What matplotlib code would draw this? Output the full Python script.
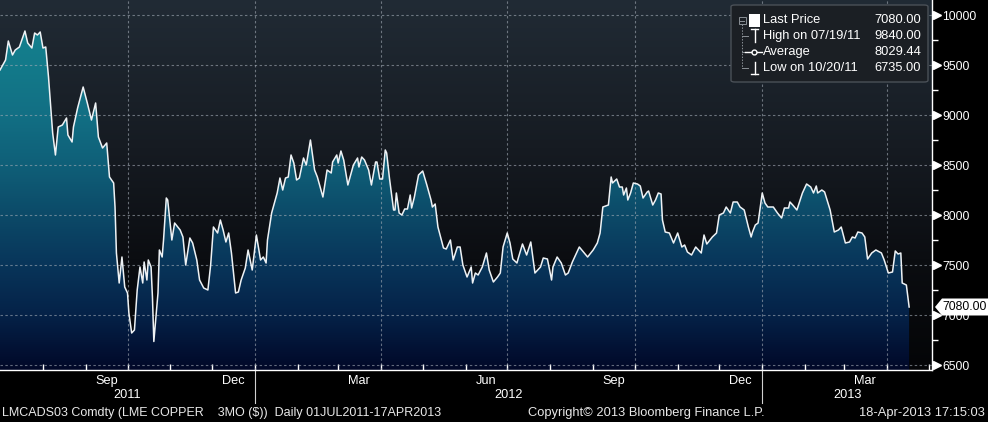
import numpy as np
import pandas as pd
import matplotlib
matplotlib.use('Agg')
import matplotlib.pyplot as plt
import matplotlib.dates as mdates
from matplotlib.colors import LinearSegmentedColormap
from matplotlib.patches import Polygon, FancyBboxPatch, Rectangle
from matplotlib.lines import Line2D
from matplotlib.ticker import MultipleLocator, FixedLocator

# ---------------- data ----------------
dates = [
    '2011-07-01', '2011-07-05', '2011-07-07', '2011-07-10', '2011-07-12', '2011-07-15', '2011-07-19',
    '2011-07-21', '2011-07-24', '2011-07-26', '2011-07-28', '2011-07-30', '2011-08-01', '2011-08-03',
    '2011-08-05', '2011-08-08', '2011-08-10', '2011-08-12', '2011-08-15', '2011-08-18', '2011-08-19',
    '2011-08-22', '2011-08-23', '2011-08-26', '2011-08-30', '2011-09-02', '2011-09-05', '2011-09-08',
    '2011-09-10', '2011-09-13', '2011-09-16', '2011-09-18', '2011-09-21', '2011-09-22', '2011-09-23',
    '2011-09-25', '2011-09-27', '2011-09-29', '2011-10-01', '2011-10-02', '2011-10-04', '2011-10-06',
    '2011-10-08', '2011-10-10', '2011-10-12', '2011-10-13', '2011-10-15', '2011-10-16', '2011-10-18',
    '2011-10-19', '2011-10-20', '2011-10-23', '2011-10-24', '2011-10-26', '2011-10-27', '2011-10-29',
    '2011-10-30', '2011-11-02', '2011-11-04', '2011-11-08', '2011-11-10', '2011-11-12', '2011-11-15',
    '2011-11-17', '2011-11-20', '2011-11-22', '2011-11-25', '2011-11-28', '2011-11-30', '2011-12-02',
    '2011-12-05', '2011-12-07', '2011-12-09', '2011-12-11', '2011-12-13', '2011-12-15', '2011-12-18',
    '2011-12-20', '2011-12-22', '2011-12-25', '2011-12-27', '2011-12-30', '2012-01-02', '2012-01-05',
    '2012-01-07', '2012-01-09', '2012-01-10', '2012-01-13', '2012-01-17', '2012-01-19', '2012-01-21',
    '2012-01-23', '2012-01-25', '2012-01-27', '2012-01-29', '2012-01-31', '2012-02-02', '2012-02-05',
    '2012-02-07', '2012-02-10', '2012-02-13', '2012-02-15', '2012-02-19', '2012-02-22', '2012-02-25',
    '2012-02-26', '2012-02-29', '2012-03-01', '2012-03-03', '2012-03-05', '2012-03-08', '2012-03-12',
    '2012-03-15', '2012-03-16', '2012-03-18', '2012-03-20', '2012-03-23', '2012-03-25', '2012-03-28',
    '2012-03-29', '2012-03-31', '2012-04-02', '2012-04-04', '2012-04-05', '2012-04-07', '2012-04-10',
    '2012-04-11', '2012-04-12', '2012-04-14', '2012-04-16', '2012-04-18', '2012-04-20', '2012-04-22',
    '2012-04-23', '2012-04-25', '2012-04-28', '2012-05-01', '2012-05-04', '2012-05-07', '2012-05-08',
    '2012-05-10', '2012-05-12', '2012-05-16', '2012-05-18', '2012-05-21', '2012-05-23', '2012-05-26',
    '2012-05-28', '2012-05-30', '2012-06-02', '2012-06-05', '2012-06-06', '2012-06-08', '2012-06-10',
    '2012-06-13', '2012-06-16', '2012-06-18', '2012-06-21', '2012-06-24', '2012-06-26', '2012-06-28',
    '2012-07-01', '2012-07-03', '2012-07-05', '2012-07-08', '2012-07-09', '2012-07-12', '2012-07-15',
    '2012-07-18', '2012-07-21', '2012-07-25', '2012-07-27', '2012-07-30', '2012-08-02', '2012-08-03',
    '2012-08-06', '2012-08-09', '2012-08-12', '2012-08-14', '2012-08-17', '2012-08-20', '2012-08-22',
    '2012-08-25', '2012-08-28', '2012-09-01', '2012-09-04', '2012-09-06', '2012-09-08', '2012-09-12',
    '2012-09-14', '2012-09-15', '2012-09-18', '2012-09-20', '2012-09-22', '2012-09-23', '2012-09-25',
    '2012-09-26', '2012-09-28', '2012-09-30', '2012-10-03', '2012-10-05', '2012-10-07', '2012-10-10',
    '2012-10-11', '2012-10-14', '2012-10-16', '2012-10-18', '2012-10-20', '2012-10-21', '2012-10-23',
    '2012-10-26', '2012-10-29', '2012-11-01', '2012-11-04', '2012-11-06', '2012-11-08', '2012-11-11',
    '2012-11-14', '2012-11-16', '2012-11-18', '2012-11-20', '2012-11-22', '2012-11-26', '2012-11-29',
    '2012-12-01', '2012-12-04', '2012-12-06', '2012-12-09', '2012-12-11', '2012-12-14', '2012-12-16',
    '2012-12-19', '2012-12-22', '2012-12-24', '2012-12-25', '2012-12-27', '2012-12-29', '2013-01-01',
    '2013-01-03', '2013-01-05', '2013-01-09', '2013-01-12', '2013-01-15', '2013-01-17', '2013-01-20',
    '2013-01-21', '2013-01-23', '2013-01-26', '2013-01-30', '2013-02-02', '2013-02-05', '2013-02-07',
    '2013-02-09', '2013-02-10', '2013-02-13', '2013-02-15', '2013-02-19', '2013-02-22', '2013-02-25',
    '2013-02-27', '2013-03-02', '2013-03-05', '2013-03-07', '2013-03-09', '2013-03-11', '2013-03-14',
    '2013-03-16', '2013-03-18', '2013-03-21', '2013-03-24', '2013-03-28', '2013-03-30', '2013-04-02',
    '2013-04-05', '2013-04-07', '2013-04-09', '2013-04-11', '2013-04-12', '2013-04-15', '2013-04-17',
]
prices = [
    9450, 9550, 9740, 9600, 9650, 9680, 9840,
    9720, 9670, 9820, 9800, 9830, 9670, 9680,
    9380, 8820, 8600, 8880, 8900, 8970, 8800,
    8730, 8880, 9070, 9280, 9120, 8950, 9120,
    8780, 8670, 8720, 8380, 8320, 8080, 7620,
    7320, 7580, 7280, 7220, 7020, 6820, 6850,
    7250, 7480, 7320, 7530, 7350, 7550, 7480,
    7180, 6735, 7220, 7650, 7580, 7750, 8170,
    8150, 7750, 7920, 7850, 7780, 7500, 7770,
    7720, 7550, 7350, 7270, 7250, 7500, 7880,
    7820, 7950, 7850, 7730, 7820, 7620, 7220,
    7230, 7350, 7470, 7650, 7450, 7800, 7550,
    7580, 7520, 7750, 8020, 8220, 8370, 8250,
    8370, 8380, 8600, 8520, 8350, 8370, 8570,
    8500, 8750, 8450, 8380, 8180, 8450, 8420,
    8530, 8600, 8520, 8640, 8550, 8300, 8500,
    8570, 8480, 8580, 8550, 8450, 8300, 8530,
    8530, 8360, 8360, 8650, 8620, 8370, 8050,
    8050, 8220, 8020, 8000, 8060, 8060, 8200,
    8070, 8180, 8400, 8440, 8300, 8150, 8080,
    8110, 7880, 7670, 7660, 7750, 7550, 7680,
    7680, 7500, 7380, 7480, 7320, 7420, 7400,
    7480, 7620, 7450, 7330, 7380, 7420, 7680,
    7820, 7720, 7560, 7520, 7570, 7710, 7600,
    7730, 7420, 7480, 7570, 7560, 7350, 7480,
    7580, 7520, 7400, 7420, 7530, 7620, 7680,
    7630, 7580, 7650, 7720, 7820, 8080, 8100,
    8380, 8320, 8360, 8280, 8280, 8200, 8270,
    8150, 8220, 8320, 8310, 8290, 8170, 8230,
    8240, 8100, 8150, 8220, 8210, 7950, 7830,
    7820, 7720, 7820, 7680, 7700, 7630, 7600,
    7680, 7650, 7620, 7800, 7710, 7780, 7820,
    8000, 8020, 8080, 8020, 8130, 8130, 8080,
    8050, 7880, 7780, 7830, 7900, 7920, 8220,
    8120, 8080, 8080, 8020, 7970, 8070, 8070,
    8130, 8100, 8050, 8220, 8310, 8280, 8220,
    8290, 8220, 8250, 8230, 8050, 7830, 7850,
    7880, 7720, 7730, 7780, 7770, 7830, 7820,
    7780, 7560, 7620, 7650, 7620, 7550, 7420,
    7430, 7640, 7610, 7620, 7320, 7300, 7080,
]
average_price = 8029.44
y_ticks = [6500, 7000, 7500, 8000, 8500, 9000, 9500, 10000]
month_labels = ['Sep', 'Dec', 'Mar', 'Jun', 'Sep', 'Dec', 'Mar']
month_label_dates = ['2011-09-16', '2011-12-16', '2012-03-16', '2012-06-16',
                     '2012-09-16', '2012-12-16', '2013-03-16']
years = ['2011', '2012', '2013']
grid_dates = ['2011-10-01', '2012-01-01', '2012-04-01', '2012-07-01',
              '2012-10-01', '2013-01-01', '2013-04-01']
footer_left = 'LMCADS03 Comdty (LME COPPER    3MO ($))  Daily 01JUL2011-17APR2013'
footer_mid = 'Copyright\u00a9 2013 Bloomberg Finance L.P.'
footer_right = '18-Apr-2013 17:15:03'

# ---------------- figure ----------------
FONT = ['Liberation Sans', 'DejaVu Sans']
plt.rcParams['font.family'] = FONT
W, H = 988, 422
fig = plt.figure(figsize=(W / 100, H / 100), dpi=100, facecolor='black')
AX_W, AX_H = 932, 370
ax = fig.add_axes([0, (H - AX_H) / H, AX_W / W, AX_H / H])
ax.set_facecolor('black')

def fpx(x, y):
    return (x / W, 1 - y / H)

x = mdates.date2num(pd.to_datetime(dates))
y = np.array(prices, dtype=float)
start = mdates.date2num(pd.Timestamp('2011-07-01'))
x0, x1 = start, start + 672.5
ylo, yhi = 6450, 10150
ax.set_xlim(x0, x1)
ax.set_ylim(ylo, yhi)

# background gradient
bg_cmap = LinearSegmentedColormap.from_list(
    'bg', [(0, '#040507'), (0.3, '#0b0d11'), (0.6, '#161b22'), (1.0, '#212b35')])
grad = np.linspace(0, 1, 256).reshape(-1, 1)
ax.imshow(grad, extent=[x0, x1, ylo, yhi], origin='lower', aspect='auto',
          cmap=bg_cmap, zorder=0, interpolation='bicubic')

# area fill with vertical gradient
fill_cmap = LinearSegmentedColormap.from_list(
    'fill', [(0.0, '#010828'), (0.149, '#052248'), (0.284, '#08355a'), (0.419, '#0c4a68'),
             (0.554, '#0f5f78'), (0.689, '#126f84'), (0.824, '#137a8a'), (1.0, '#168592')])
poly = Polygon(np.column_stack([np.r_[x, x[-1], x[0]], np.r_[y, ylo, ylo]]),
               closed=True, facecolor='none', edgecolor='none', transform=ax.transData)
ax.add_patch(poly)
im = ax.imshow(grad, extent=[x0, x1, ylo, yhi], origin='lower', aspect='auto',
               cmap=fill_cmap, zorder=1, interpolation='bicubic')
im.set_clip_path(poly)

# grid
gkw = dict(color='#a4acb6', lw=0.8, ls=(0, (2.2, 2.2)), alpha=0.6, zorder=2)
for t in y_ticks:
    ax.axhline(t, **gkw)
for d in grid_dates:
    ax.axvline(mdates.date2num(pd.Timestamp(d)), **gkw)

# price line
ax.plot(x, y, color='#eef2f5', lw=1.1, zorder=3)

# spines
for s in ['top', 'left']:
    ax.spines[s].set_visible(False)
for s in ['right', 'bottom']:
    ax.spines[s].set_color('white')
    ax.spines[s].set_linewidth(1.0)

# y axis (right)
ax.yaxis.set_ticks_position('right')
ax.yaxis.set_major_locator(FixedLocator(y_ticks))
ax.yaxis.set_minor_locator(MultipleLocator(250))
ax.tick_params(axis='y', which='major', length=0, pad=7.5, labelsize=8.7,
               labelcolor='white')
ax.tick_params(axis='y', which='minor', length=4, width=1, color='white', direction='out')
ax.set_yticklabels([str(t) for t in y_ticks])
ax.plot(np.full(len(y_ticks), 1 + 5 / AX_W), y_ticks, marker='>', ms=5.5, color='white',
        ls='none', transform=ax.get_yaxis_transform(), clip_on=False, zorder=5)

# x axis
months = pd.date_range('2011-08-01', '2013-05-01', freq='MS')
ax.xaxis.set_major_locator(FixedLocator(mdates.date2num(months)))
ax.tick_params(axis='x', which='major', direction='in', length=4, width=1,
               color='white', labelbottom=False)
tx = ax.get_xaxis_transform()
for lab, d in zip(month_labels, month_label_dates):
    ax.text(mdates.date2num(pd.Timestamp(d)), -11 / AX_H, lab, transform=tx,
            ha='center', va='center', color='white', fontsize=9.2, clip_on=False)
for yr in years:
    a = max(mdates.date2num(pd.Timestamp(f'{yr}-01-01')), x0)
    b = min(mdates.date2num(pd.Timestamp(f'{int(yr) + 1}-01-01')), x1)
    ax.text((a + b) / 2, -25 / AX_H, yr, transform=tx, ha='center', va='center',
            color='white', fontsize=9.2, clip_on=False)
for yr in years[1:]:
    xx = mdates.date2num(pd.Timestamp(f'{yr}-01-01'))
    ax.add_line(Line2D([xx, xx], [0, -33 / AX_H], transform=tx, color='#d0d0d0',
                       lw=0.8, clip_on=False))

# last price tag
last = y[-1]
hh = 85
tag = Polygon([(1 + 3 / AX_W, last), (1 + 10 / AX_W, last + hh), (1 + 57 / AX_W, last + hh),
               (1 + 57 / AX_W, last - hh), (1 + 10 / AX_W, last - hh)], closed=True,
              facecolor='white', edgecolor='none', transform=ax.get_yaxis_transform(),
              clip_on=False, zorder=10)
ax.add_patch(tag)
ax.text(1 + 10 / AX_W, last, f'{last:.2f}', transform=ax.get_yaxis_transform(),
        ha='left', va='center', color='black', fontsize=8.8, clip_on=False, zorder=11)

# legend box
lx0, ly0, lx1, ly1 = 731, 5, 928, 82
box = FancyBboxPatch(fpx(lx0, ly1), (lx1 - lx0) / W, (ly1 - ly0) / H,
                     boxstyle='round,pad=0,rounding_size=0.004', transform=fig.transFigure,
                     facecolor='#1b1f24', edgecolor='#4a5057', lw=1.0, zorder=20)
fig.add_artist(box)
rows = [20, 36, 52, 68]
hi_idx, lo_idx = int(np.argmax(y)), int(np.argmin(y))
hi_d = pd.Timestamp(dates[hi_idx]).strftime('%m/%d/%y')
lo_d = pd.Timestamp(dates[lo_idx]).strftime('%m/%d/%y')
labels = ['Last Price', f'High on {hi_d}', 'Average', f'Low on {lo_d}']
vals = [y[-1], y[hi_idx], average_price, y[lo_idx]]
for r, lab, v in zip(rows, labels, vals):
    fig.text(*fpx(763, r), lab, ha='left', va='center', color='white', fontsize=9.3, zorder=21)
    fig.text(*fpx(921, r), f'{v:.2f}', ha='right', va='center', color='white', fontsize=9.3,
             zorder=21)
# tree connectors
tc = '#8a9096'
fig.add_artist(Line2D([742 / W, 742 / W], [fpx(0, 24)[1], fpx(0, 68)[1]], color=tc, lw=0.7,
                      ls=(0, (1.5, 1.5)), transform=fig.transFigure, zorder=21))
for r in rows[1:]:
    fig.add_artist(Line2D([742 / W, 748 / W], [fpx(0, r)[1]] * 2, color=tc, lw=0.7,
                          transform=fig.transFigure, zorder=21))
fig.add_artist(Rectangle(fpx(738.5, 24), 7 / W, 7 / H, transform=fig.transFigure,
                         facecolor='#1b1f24', edgecolor=tc, lw=0.7, zorder=22))
fig.add_artist(Line2D([740 / W, 744 / W], [fpx(0, 20.5)[1]] * 2, color=tc, lw=0.7,
                      transform=fig.transFigure, zorder=23))
fig.add_artist(Rectangle(fpx(749, 27), 11 / W, 13 / H, transform=fig.transFigure,
                         facecolor='white', edgecolor='none', zorder=22))
wkw = dict(color='white', lw=1.0, transform=fig.transFigure, zorder=22)
fig.add_artist(Line2D([751 / W, 758 / W], [fpx(0, 29)[1]] * 2, **wkw))
fig.add_artist(Line2D([754.5 / W, 754.5 / W], [fpx(0, 29)[1], fpx(0, 42)[1]], **wkw))
fig.add_artist(Line2D([745 / W, 762 / W], [fpx(0, 52)[1]] * 2, **wkw))
fig.add_artist(Line2D([754 / W], [fpx(0, 52)[1]], marker='o', ms=3.5, mfc='#1b1f24',
                      mec='white', mew=1, transform=fig.transFigure, zorder=23))
fig.add_artist(Line2D([751 / W, 758 / W], [fpx(0, 74)[1]] * 2, **wkw))
fig.add_artist(Line2D([754.5 / W, 754.5 / W], [fpx(0, 62)[1], fpx(0, 74)[1]], **wkw))

# footer
fy = fpx(0, 413)[1]
fig.text(2 / W, fy, footer_left, ha='left', va='center', color='#e8e8e8', fontsize=9.0)
fig.text(528 / W, fy, footer_mid, ha='left', va='center', color='#e8e8e8', fontsize=9.3)
fig.text(985 / W, fy, footer_right, ha='right', va='center', color='#e8e8e8', fontsize=9.3)

fig.savefig('out.png', dpi=100, facecolor='black')
